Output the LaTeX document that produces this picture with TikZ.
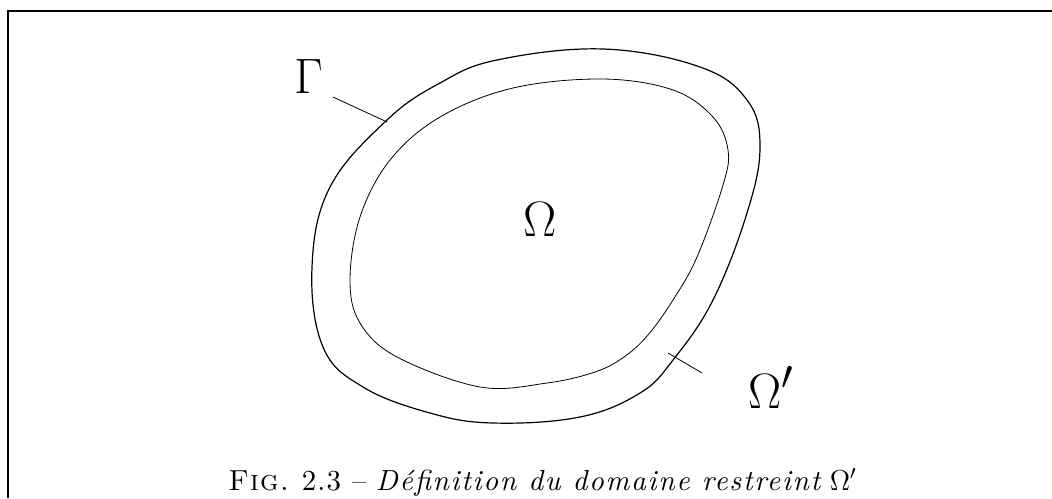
\documentclass[tikz,border=0pt]{standalone}
\usepackage{fontspec}
\newfontface\captit[LetterSpace=6]{lmroman10-italic.otf}
\newfontface\captrm[LetterSpace=4]{lmroman10-regular.otf}
\newfontface\captsc[LetterSpace=4]{lmromancaps10-regular.otf}
\usepackage{tikz}
\usetikzlibrary{positioning}

\begin{document}
\begin{tikzpicture}[
  x=0.5pt,y=-0.5pt,
  frame/.style={line width=1.2pt},
  bord/.style={line width=0.6pt},
  inbord/.style={line width=0.4pt},
  lead/.style={line width=0.4pt},
  lbl/.style={anchor=base,inner sep=0pt,font=\fontsize{32}{36}\selectfont},
  capt/.style={anchor=base west,inner sep=0pt,font=\fontsize{14.5}{17}\selectfont}
]
\useasboundingbox (0,0) rectangle (1052,498);

% frame (open at right and bottom)
\draw[frame] (1052,11) -- (8,11) -- (8,498);

% outer boundary
\draw[bord] plot[smooth cycle,tension=0.65] coordinates {
  (603,49) (700,67) (747,100) (760,147) (747,213) (713,300) (673,360)
  (640,393) (580,417) (493,423) (430,413) (363,387) (323,347) (312,267)
  (330,187) (387,120) (440,83) (497,60)};

% inner boundary
\draw[inbord] plot[smooth cycle,tension=0.6] coordinates {
  (603,79) (673,90) (713,117) (728,150) (723,185) (697,257) (673,300)
  (648,335) (624,357) (595,372) (547,383) (480,387) (397,357) (360,323)
  (350,280) (360,217) (390,160) (440,117) (513,88)};

% labels
\node[lbl] (gamma) at (309,93) {$\Gamma$};
\node[lbl] (omega) at (540,236) {$\Omega$};
\node[lbl] (omegap) at (771,408) {$\Omega'$};

\coordinate (gfoot) at (333,97);
\coordinate (gtip) at (387,122);
\coordinate (ofoot) at (702,373);
\coordinate (otip) at (668,353);
\draw[lead] (gfoot) -- (gtip);
\draw[lead] (ofoot) -- (otip);

% caption
\node[capt] (caption) at (228,490)
  {{\captsc Fig.} {\captrm 2.3 \textendash} {\captit D\'efinition du domaine restreint} $\Omega'$};
\end{tikzpicture}
\end{document}
